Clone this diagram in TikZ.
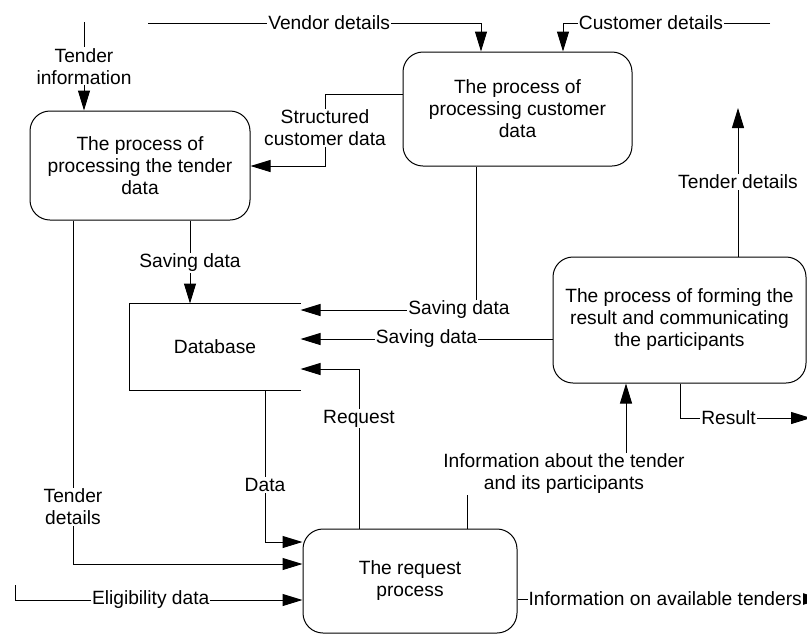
\documentclass[tikz,border=0pt]{standalone}
\usepackage{fontspec}
\setmainfont{Liberation Sans}
\usetikzlibrary{arrows.meta}
\begin{document}
\begin{tikzpicture}[x=1pt,y=-1pt,line width=1pt,
  font=\fontsize{19.2}{22}\selectfont,
  proc/.style={draw,rounded corners=20pt,align=center,inner sep=0pt},
  lbl/.style={fill=white,inner sep=1pt,outer sep=0pt,align=center},
  flow/.style={-{Triangle[length=20pt,width=12pt]}}]
\useasboundingbox (0,0) rectangle (807,633);

\node[proc,minimum width=220pt,minimum height=109pt] (A) at (140,165.5) {The process of\\processing the tender\\data};
\node[proc,minimum width=229pt,minimum height=114pt] (B) at (517.5,109) {The process of\\processing customer\\data};
\node[proc,minimum width=253pt,minimum height=126pt] (C) at (679.5,320) {The process of forming the\\result and communicating\\the participants};
\node[proc,minimum width=214pt,minimum height=104pt] (D) at (410,581) {The request\\process};
\node[minimum width=170pt,minimum height=86pt,inner sep=0pt] (db) at (215,347) {Database};
\draw (db.north east) -- (db.north west) -- (db.south west) -- (db.south east);

\coordinate (tiS) at (84,22);
\coordinate (vdS) at (148,23);
\coordinate (cdS) at (770,23);
\coordinate (elS) at (15,585);

\draw[flow] (tiS) -- node[lbl,pos=0.5]{Tender\\information} (tiS |- A.north);
\draw[flow] (vdS) -- node[lbl,pos=0.544]{Vendor details} (481,23) -- (481,0 |- B.north);
\draw[flow] (cdS) -- node[lbl,pos=0.575]{Customer details} (563,23) -- (563,0 |- B.north);
\draw[flow] (B.west |- 0,94) -- (325,94) -- node[lbl,pos=0.47]{Structured\\customer data} (325,166) -- (A.east |- 0,166);
\draw[flow] (A.south -| 190,0) -- node[lbl,pos=0.51]{Saving data} (190,0 |- db.north);
\draw[flow] (B.south -| 476,0) -- (476,310) -- (db.east |- 0,310);
\node[lbl] at (459,310) {Saving data};
\draw[flow] (C.west |- 0,339) -- node[lbl,pos=0.5]{Saving data} (db.east |- 0,339);
\draw[flow] (D.north -| 359,0) -- node[lbl,pos=0.69]{Request} (359,369) -- (db.east |- 0,369);
\draw[flow] (db.south -| 265,0) -- node[lbl,pos=0.625]{Data} (265,542) -- (D.west |- 0,542);
\draw[flow] (A.south -| 73,0) -- node[lbl,pos=0.834]{Tender\\details} (73,564) -- (D.west |- 0,564);
\draw[flow] (elS) -- (15,600) -- node[lbl,pos=0.472]{Eligibility data} (D.west |- 0,600);
\draw[flow] (D.north -| 467,0) -- (467,474) -- (626,474) -- (626,0 |- C.south);
\node[lbl] at (564,474) {Information about the tender\\and its participants};
\draw[flow] (C.north -| 738,0) -- node[lbl,pos=0.503]{Tender details} (738,108);
\draw[flow] (C.south -| 680,0) -- (680,418) -- node[lbl,pos=0.37]{Result} (811,418);
\draw[flow] (D.east |- 0,599) -- node[lbl,pos=0.485]{Information on available tenders} (822,599);
\end{tikzpicture}
\end{document}
